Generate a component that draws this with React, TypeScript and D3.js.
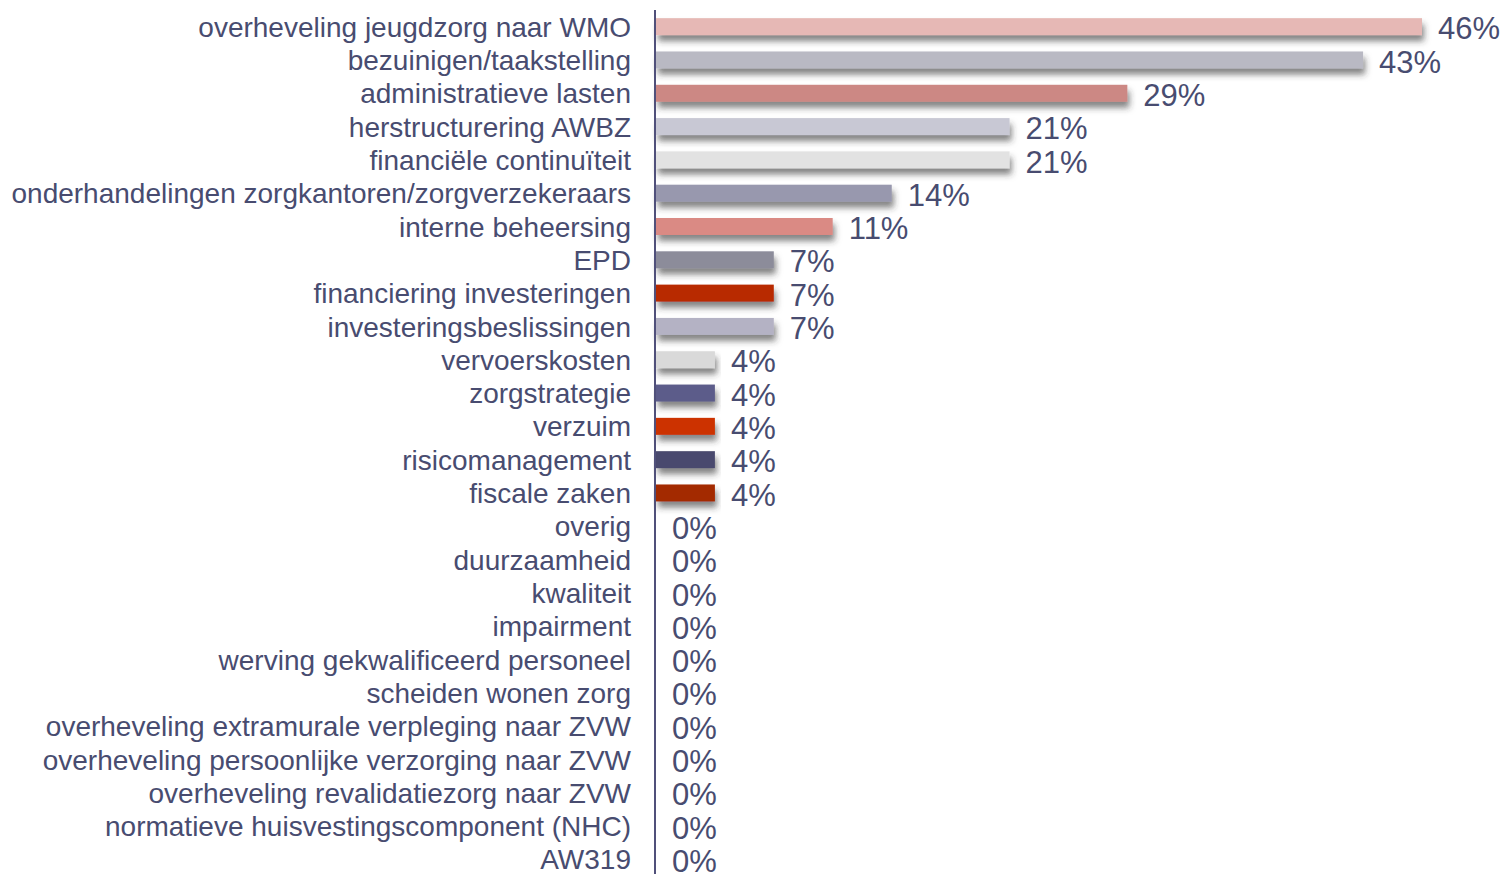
import React from "react";
import * as d3 from "d3";

const categories = [
  "overheveling jeugdzorg naar WMO",
  "bezuinigen/taakstelling",
  "administratieve lasten",
  "herstructurering AWBZ",
  "financiële continuïteit",
  "onderhandelingen zorgkantoren/zorgverzekeraars",
  "interne beheersing",
  "EPD",
  "financiering investeringen",
  "investeringsbeslissingen",
  "vervoerskosten",
  "zorgstrategie",
  "verzuim",
  "risicomanagement",
  "fiscale zaken",
  "overig",
  "duurzaamheid",
  "kwaliteit",
  "impairment",
  "werving gekwalificeerd personeel",
  "scheiden wonen zorg",
  "overheveling extramurale verpleging naar ZVW",
  "overheveling persoonlijke verzorging naar ZVW",
  "overheveling revalidatiezorg naar ZVW",
  "normatieve huisvestingscomponent (NHC)",
  "AW319",
];

const values = [
  46.43, 42.86, 28.57, 21.43, 21.43, 14.29, 10.71, 7.14, 7.14, 7.14,
  3.57, 3.57, 3.57, 3.57, 3.57, 0, 0, 0, 0, 0, 0, 0, 0, 0, 0, 0,
];

const barColors = [
  "#e6b8b5", "#b9b9c3", "#cc8884", "#c8c8d4", "#e2e2e2", "#9898ae",
  "#da8a84", "#8c8c9a", "#b82a00", "#b4b2c4", "#d9d9d9", "#5c5c8a",
  "#cc3300", "#4a4a6e", "#a32a00", "#cccccc", "#cccccc", "#cccccc",
  "#cccccc", "#cccccc", "#cccccc", "#cccccc", "#cccccc", "#cccccc",
  "#cccccc", "#cccccc",
];

const W = 1504;
const H = 874;
const textColor = "#484c70";

export default function App() {
  const x = d3.scaleLinear().domain([0, 46.43]).range([656, 1422]);
  const y = d3
    .scaleBand<string>()
    .domain(categories)
    .range([10, 876])
    .paddingInner(0.49)
    .paddingOuter(0.245);

  return (
    <svg
      width={W}
      height={H}
      style={{ position: "absolute", left: 0, top: 0, background: "#fff" }}
      fontFamily="'Liberation Sans', Arial, sans-serif"
    >
      <defs>
        <filter id="shadow" x="-5%" y="-60%" width="115%" height="280%">
          <feDropShadow dx="2" dy="6" stdDeviation="3" floodColor="#333333" floodOpacity="0.6" />
        </filter>
      </defs>
      {categories.map((c, i) => {
        const v = values[i];
        const y0 = y(c)!;
        const bw = y.bandwidth();
        const cy = y0 + bw / 2;
        return (
          <g key={c}>
            {v > 0 && (
              <rect
                x={x(0)}
                y={y0}
                width={x(v) - x(0)}
                height={bw}
                fill={barColors[i]}
                filter="url(#shadow)"
              />
            )}
            <text
              x={631}
              y={cy}
              dy="0.36em"
              textAnchor="end"
              fontSize={28}
              fill={textColor}
            >
              {c}
            </text>
            <text
              x={x(v) + 16}
              y={cy + 1.5}
              dy="0.36em"
              fontSize={31}
              fill={textColor}
            >
              {Math.round(v) + "%"}
            </text>
          </g>
        );
      })}
      <line x1={655} x2={655} y1={10} y2={874} stroke="#50507a" strokeWidth={2} />
    </svg>
  );
}
